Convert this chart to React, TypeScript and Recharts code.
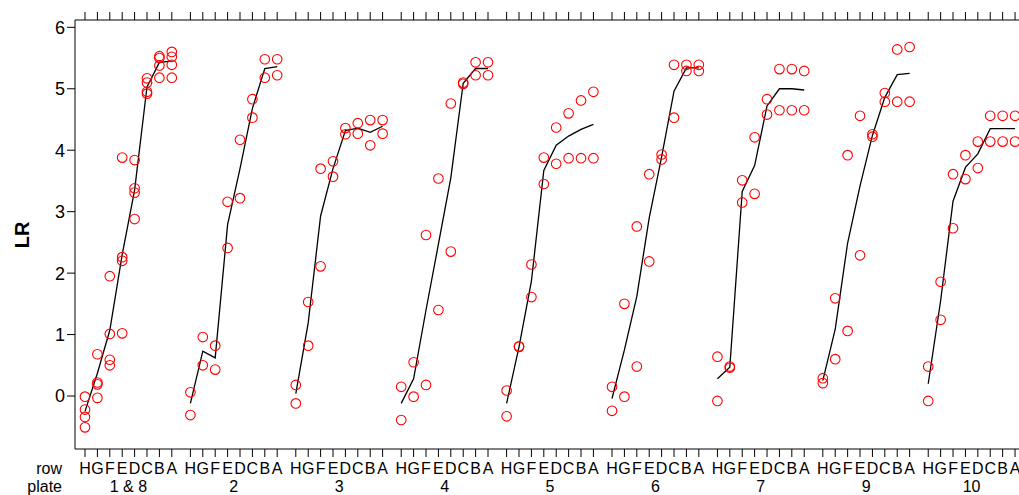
import React from 'react'
import { ScatterChart, Scatter, XAxis, YAxis } from 'recharts'

const rows = ['H', 'G', 'F', 'E', 'D', 'C', 'B', 'A']
const plates = ['1 & 8', '2', '3', '4', '5', '6', '7', '9', '10']
const yTicks = [0, 1, 2, 3, 4, 5, 6]

// LR readings, one list per row (H..A), for each plate
const lrPlate1and8 = [
    [-0.01, -0.22, -0.34, -0.51],
    [0.68, 0.22, 0.19, -0.03],
    [1.95, 1.01, 0.59, 0.5],
    [3.88, 2.26, 2.2, 1.02],
    [3.84, 3.38, 3.31, 2.88],
    [5.17, 5.1, 4.95, 4.92],
    [5.53, 5.5, 5.38, 5.18],
    [5.6, 5.52, 5.39, 5.18],
]
const lrPlate2 = [
    [0.06, -0.31], [0.96, 0.5], [0.82, 0.43], [3.16, 2.41],
    [4.17, 3.22], [4.83, 4.53], [5.48, 5.18], [5.48, 5.22],
]
const lrPlate3 = [
    [0.18, -0.12], [1.53, 0.82], [3.7, 2.11], [3.82, 3.57],
    [4.36, 4.26], [4.44, 4.27], [4.49, 4.08], [4.49, 4.27],
]
const lrPlate4 = [
    [0.15, -0.39], [0.55, -0.01], [2.62, 0.18], [3.54, 1.4],
    [4.76, 2.35], [5.1, 5.08], [5.43, 5.22], [5.43, 5.22],
]
const lrPlate5 = [
    [0.09, -0.33], [0.81, 0.8], [2.14, 1.61], [3.88, 3.45],
    [4.37, 3.78], [4.6, 3.87], [4.81, 3.87], [4.95, 3.87],
]
const lrPlate6 = [
    [0.15, -0.24], [1.5, -0.01], [2.76, 0.48], [3.61, 2.19],
    [3.93, 3.85], [5.39, 4.53], [5.39, 5.29], [5.39, 5.29],
]
const lrPlate7 = [
    [0.64, -0.08], [0.48, 0.46], [3.51, 3.15], [4.21, 3.29],
    [4.83, 4.58], [5.32, 4.65], [5.32, 4.65], [5.29, 4.65],
]
const lrPlate9 = [
    [0.29, 0.21], [1.59, 0.6], [3.92, 1.06], [4.56, 2.29],
    [4.26, 4.22], [4.93, 4.79], [5.64, 4.79], [5.68, 4.79],
]
const lrPlate10 = [
    [0.48, -0.08], [1.86, 1.24], [3.61, 2.73], [3.92, 3.53],
    [4.14, 3.71], [4.56, 4.14], [4.56, 4.14], [4.56, 4.14],
]

// fitted curve per plate (H..A)
const fit1and8 = [-0.25, 0.37, 1.07, 2.3, 3.35, 5.03, 5.43, 5.45]
const fit2 = [-0.12, 0.73, 0.62, 2.79, 3.7, 4.68, 5.33, 5.36]
const fit3 = [0.04, 1.19, 2.93, 3.7, 4.32, 4.36, 4.29, 4.39]
const fit4 = [-0.12, 0.28, 1.4, 2.47, 3.55, 5.09, 5.33, 5.33]
const fit5 = [-0.12, 0.8, 1.87, 3.67, 4.08, 4.23, 4.34, 4.42]
const fit6 = [-0.04, 0.75, 1.62, 2.9, 3.89, 4.96, 5.34, 5.34]
const fit7 = [0.28, 0.47, 3.33, 3.75, 4.72, 5.0, 5.0, 4.98]
const fit9 = [0.25, 1.09, 2.49, 3.42, 4.24, 4.86, 5.23, 5.25]
const fit10 = [0.2, 1.55, 3.17, 3.72, 3.94, 4.35, 4.35, 4.35]

const allLr = [lrPlate1and8, lrPlate2, lrPlate3, lrPlate4, lrPlate5, lrPlate6, lrPlate7, lrPlate9, lrPlate10]
const allFits = [fit1and8, fit2, fit3, fit4, fit5, fit6, fit7, fit9, fit10]

// each plate takes 8 row slots plus a gap of 1.5
const GROUP_STEP = 8.5
const pos = (g: number, r: number) => g * GROUP_STEP + r

const points = allLr.flatMap((plate, g) =>
    plate.flatMap((vals, r) => vals.map((lr) => ({ x: pos(g, r), lr }))),
)
const fitLines = allFits.map((fit, g) => fit.map((lr, r) => ({ x: pos(g, r), lr })))
const xTicks = plates.flatMap((_, g) => rows.map((_r, r) => pos(g, r)))

const FONT = '"Liberation Sans", Arial, Helvetica, sans-serif'

// eslint-disable-next-line @typescript-eslint/no-explicit-any
const RowTick = ({ x, y, payload }: any) => {
    const v = payload.value as number
    const g = Math.floor((v + 0.01) / GROUP_STEP)
    const r = Math.round(v - g * GROUP_STEP)
    return (
        <g fontFamily={FONT} fontSize={16} fill="#000">
            <text x={x} y={y + 15} textAnchor="middle">{rows[r]}</text>
            {r === 3 && (
                <text x={x + 6.2} y={y + 33} textAnchor="middle">{plates[g]}</text>
            )}
            {g === 0 && r === 0 && (
                <>
                    <text x={62} y={y + 15} textAnchor="end">row</text>
                    <text x={62} y={y + 33} textAnchor="end">plate</text>
                </>
            )}
        </g>
    )
}

const LRLabel = () => (
    <text
        transform="translate(28.5, 235) rotate(-90)"
        textAnchor="middle"
        fontFamily={FONT}
        fontSize={20}
        fontWeight="bold"
        fill="#000"
    >
        LR
    </text>
)

// eslint-disable-next-line @typescript-eslint/no-explicit-any
const RingShape = ({ cx, cy }: any) => (
    <circle cx={cx} cy={cy} r={4.8} fill="none" stroke="#ff0000" strokeWidth={1.1} />
)

const NoShape = () => <g />

export default function App() {
    return (
        <div style={{ position: 'absolute', left: 0, top: 0, width: 1019, height: 495, overflow: 'hidden', background: '#fff' }}>
            <ScatterChart width={1019} height={495} margin={{ top: 0, right: 0, bottom: 0, left: 0 }}>
                <XAxis
                    type="number"
                    dataKey="x"
                    domain={[-0.806, 75.32]}
                    allowDataOverflow
                    ticks={xTicks}
                    interval={0}
                    height={46}
                    tickSize={8}
                    stroke="#000"
                    tick={<RowTick />}
                />
                <XAxis
                    xAxisId="top"
                    orientation="top"
                    type="number"
                    dataKey="x"
                    domain={[-0.806, 75.32]}
                    allowDataOverflow
                    ticks={xTicks}
                    interval={0}
                    height={20}
                    tickSize={8}
                    stroke="#000"
                    tick={NoShape}
                />
                <YAxis
                    type="number"
                    dataKey="lr"
                    domain={[-0.862, 6.119]}
                    allowDataOverflow
                    ticks={yTicks}
                    interval={0}
                    width={75}
                    tickSize={8}
                    stroke="#000"
                    tick={{ fill: '#000', fontSize: 18, fontFamily: FONT }}
                    label={<LRLabel />}
                />
                {fitLines.map((line, g) => (
                    <Scatter
                        key={plates[g]}
                        data={line}
                        line={{ stroke: '#000', strokeWidth: 1.3 }}
                        shape={NoShape}
                        isAnimationActive={false}
                    />
                ))}
                <Scatter data={points} shape={RingShape} isAnimationActive={false} />
            </ScatterChart>
        </div>
    )
}
